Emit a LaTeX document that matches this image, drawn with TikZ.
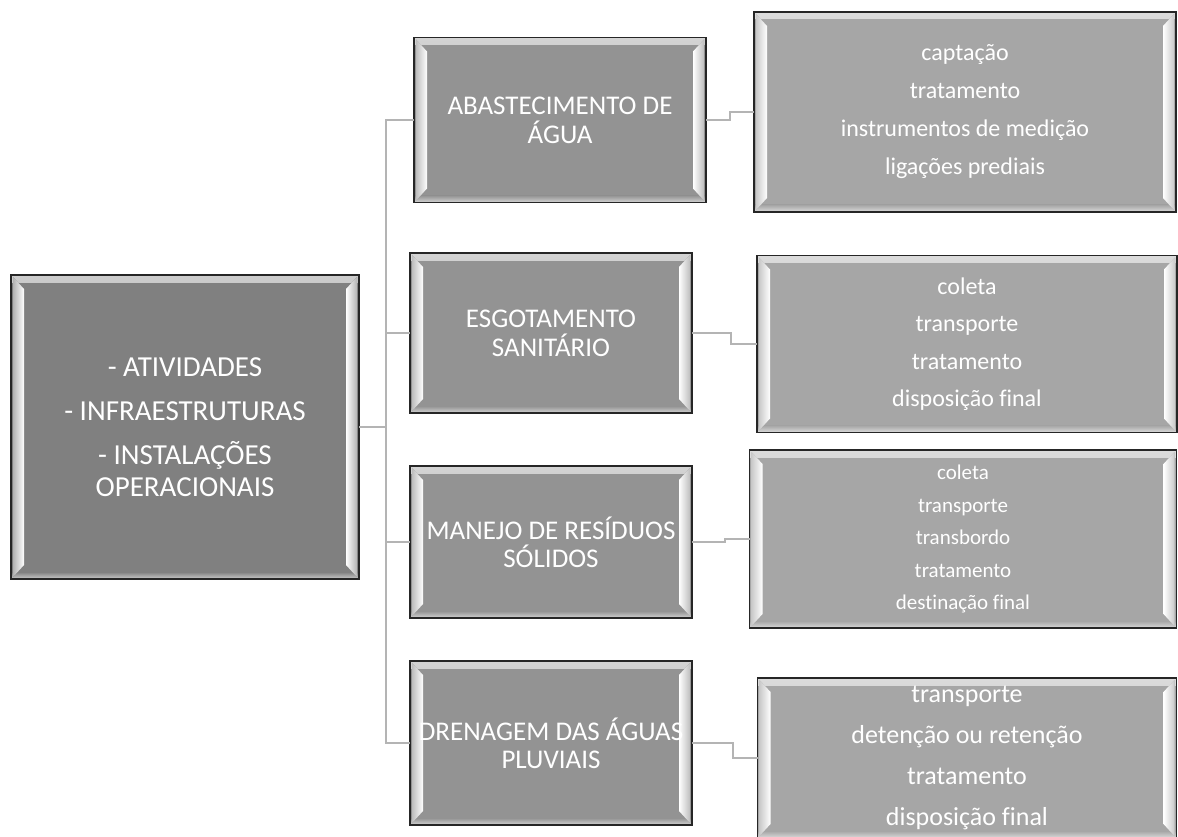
\documentclass[tikz,border=0pt]{standalone}
\usepackage{fontspec}
\setmainfont[Ligatures=NoCommon]{Carlito}
\definecolor{rootgray}{HTML}{808080}
\definecolor{midgray}{HTML}{939393}
\definecolor{leafgray}{HTML}{A6A6A6}
\definecolor{linkgray}{HTML}{B4B4B4}

% bevel look drawn inside each box
\newcommand{\bevelframe}[1]{%
  \fill[top color=#1!40!white, bottom color=#1] (path picture bounding box.north west) rectangle ([yshift=-7pt]path picture bounding box.north east);
  \fill[bottom color=#1!40!white, top color=#1] (path picture bounding box.south west) rectangle ([yshift=7pt]path picture bounding box.south east);
  \fill[left color=#1!60!white, right color=white] ([shift={(2pt,-2pt)}]path picture bounding box.north west) -- ([shift={(13pt,-14pt)}]path picture bounding box.north west) -- ([shift={(13pt,14pt)}]path picture bounding box.south west) -- ([shift={(2pt,2pt)}]path picture bounding box.south west) -- cycle;
  \fill[right color=#1!60!white, left color=white] ([shift={(-2pt,-2pt)}]path picture bounding box.north east) -- ([shift={(-13pt,-14pt)}]path picture bounding box.north east) -- ([shift={(-13pt,14pt)}]path picture bounding box.south east) -- ([shift={(-2pt,2pt)}]path picture bounding box.south east) -- cycle;
}

\begin{document}
\begin{tikzpicture}[x=1pt, y=-1pt,
    bevelbox/.style={fill=#1, draw=black!85, line width=1.4pt, inner sep=0pt, outer sep=0pt,
      text=white, align=center, path picture={\bevelframe{#1}}},
    link/.style={linkgray, line width=2.5pt}]
            \useasboundingbox (0,0) rectangle (1178,837);

            % Root box
            \node[bevelbox=rootgray, minimum width=348pt, minimum height=304pt, font=\fontsize{29}{32}\selectfont] (root) at (185,427)
                {- ATIVIDADES\\[12pt] - INFRAESTRUTURAS\\[12pt] - INSTALAÇÕES\\ OPERACIONAIS};

            % Services
            \node[bevelbox=midgray, minimum width=292pt, minimum height=165pt, font=\fontsize{27}{29}\selectfont] (abast) at (560,120)
                {ABASTECIMENTO DE\\ ÁGUA};
            \node[bevelbox=midgray, minimum width=282pt, minimum height=160pt, font=\fontsize{27}{29}\selectfont] (esgot) at (551,333)
                {ESGOTAMENTO\\ SANITÁRIO};
            \node[bevelbox=midgray, minimum width=282pt, minimum height=152pt, font=\fontsize{27}{28}\selectfont] (resid) at (551,542)
                {MANEJO DE RESÍDUOS\\ SÓLIDOS};
            \node[bevelbox=midgray, minimum width=282pt, minimum height=164pt, font=\fontsize{27}{28}\selectfont] (drena) at (551,743)
                {DRENAGEM DAS ÁGUAS\\ PLUVIAIS};

            % Steps of each service
            \node[bevelbox=leafgray, minimum width=422pt, minimum height=200pt, font=\fontsize{24}{38}\selectfont] (abastsub) at (965,112)
                {captação\\ tratamento\\ instrumentos de medição\\ ligações prediais};
            \node[bevelbox=leafgray, minimum width=420pt, minimum height=177pt, font=\fontsize{24}{37.5}\selectfont] (esgotsub) at (967,344)
                {coleta\\ transporte\\ tratamento\\ disposição final};
            \node[bevelbox=leafgray, minimum width=427pt, minimum height=178pt, font=\fontsize{21}{32.5}\selectfont] (residsub) at (963,539)
                {coleta\\ transporte\\ transbordo\\ tratamento\\ destinação final};
            \node[bevelbox=leafgray, minimum width=419pt, minimum height=160pt, font=\fontsize{26}{41}\selectfont] (drenasub) at (967,758)
                {transporte\\ detenção ou retenção\\ tratamento\\ disposição final};

            % Root to services
            \coordinate (bus) at (386,427);
            \draw[link] (root.east) -- (bus) |- (abast.west);
            \draw[link] (root.east) -- (bus) |- (esgot.west);
            \draw[link] (root.east) -- (bus) |- (resid.west);
            \draw[link] (root.east) -- (bus) |- (drena.west);

            % Services to steps
            \draw[link] (abast.east) -- ++(24,0) |- (abastsub.west);
            \draw[link] (esgot.east) -- ++(39,0) |- (esgotsub.west);
            \draw[link] (resid.east) -- ++(33,0) |- (residsub.west);
            \draw[link] (drena.east) -- ++(41,0) |- (drenasub.west);
        \end{tikzpicture}
\end{document}
